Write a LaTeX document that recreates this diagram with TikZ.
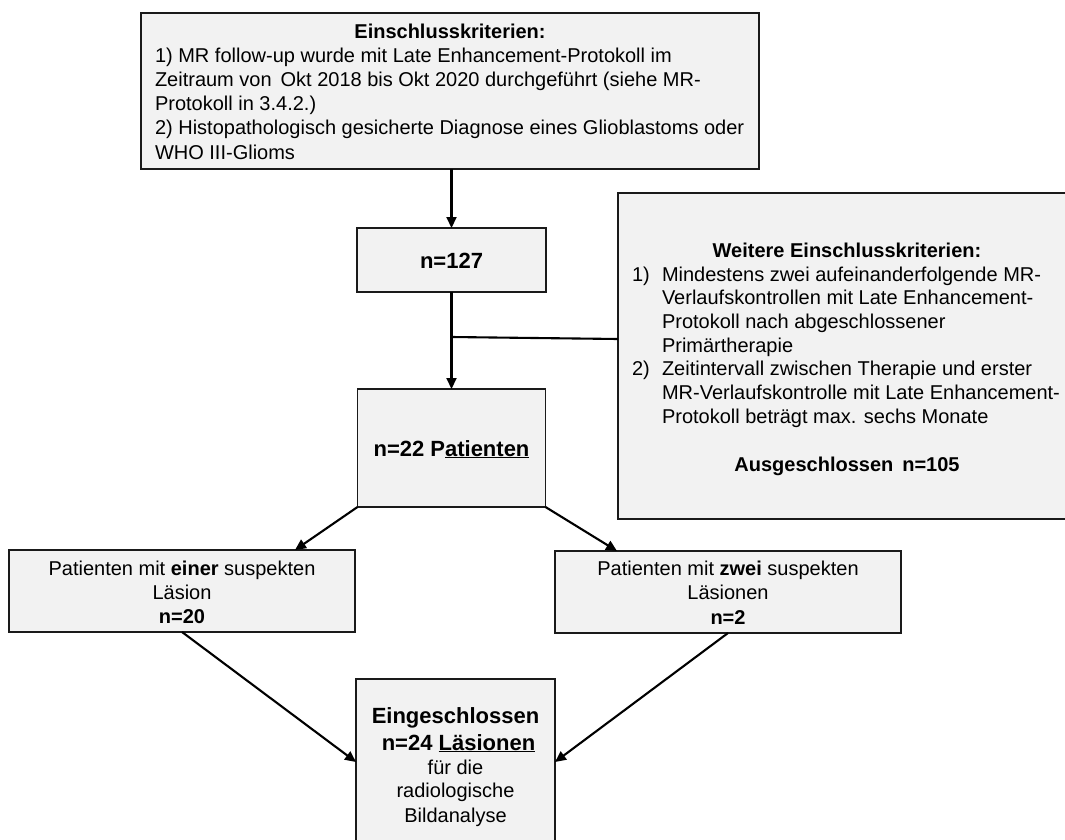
\documentclass[tikz,border=0pt]{standalone}
\usepackage{fontspec}
\setmainfont{Liberation Sans}
\usetikzlibrary{arrows.meta}
\definecolor{boxfill}{HTML}{F2F2F2}
\definecolor{edgecol}{HTML}{1A1A1A}
\begin{document}
\begin{tikzpicture}[x=1pt,y=-1pt,
  box/.style={draw=edgecol, line width=1.8pt, fill=boxfill, inner sep=0pt, outer sep=0pt},
  txt/.style={inner sep=0pt, outer sep=0pt, font=\fontsize{20}{24}\selectfont},
  txtb/.style={inner sep=0pt, outer sep=0pt, font=\fontsize{20}{24}\selectfont\bfseries},
  big/.style={inner sep=0pt, outer sep=0pt, font=\fontsize{22}{26}\selectfont\bfseries},
  conn/.style={draw=black, line width=2.1pt},
  arr/.style={conn, -{Triangle[length=11pt,width=10pt]}}]
\useasboundingbox (0,0) rectangle (1065,840);
\clip (0,0) rectangle (1065,840);

% boxes
\node[box, minimum width=618pt, minimum height=156pt] (top) at (450,91) {};
\node[box, minimum width=189pt, minimum height=64pt] (n127) at (451.5,260) {};
\node[box, minimum width=458pt, minimum height=326pt] (weit) at (847,356) {};
\node[box, minimum width=188pt, minimum height=118pt] (n22) at (451.5,448) {};
\node[box, minimum width=346pt, minimum height=82pt] (les1) at (182,591) {};
\node[box, minimum width=346pt, minimum height=82pt] (les2) at (728,592) {};
\node[box, minimum width=199pt, minimum height=220pt] (bot) at (455.5,789) {};

% top box text
\node[txtb, anchor=base] (topT) at (450,39) {Einschlusskriterien:};
\node[txt, anchor=base west] (topL1) at (155,63) {1) MR follow-up wurde mit Late Enhancement-Protokoll im};
\node[txt, anchor=base west] (topL2) at (155,87) {Zeitraum von\, Okt 2018 bis Okt 2020 durchgeführt (siehe MR-};
\node[txt, anchor=base west] (topL3) at (155,111) {Protokoll in 3.4.2.)};
\node[txt, anchor=base west] (topL4) at (155,135) {2) Histopathologisch gesicherte Diagnose eines Glioblastoms oder};
\node[txt, anchor=base west] (topL5) at (155,159) {WHO III-Glioms};

% n=127
\node[big, anchor=base] (n127T) at (451.5,268) {n=127};

% further criteria
\node[txtb, anchor=base] (weitT) at (847,257) {Weitere Einschlusskriterien:};
\node[txt, anchor=base west] (weitN1) at (632,281) {1)};
\node[txt, anchor=base west] (weitA1) at (662,281) {Mindestens zwei aufeinanderfolgende MR-};
\node[txt, anchor=base west] (weitA2) at (662,304.7) {Verlaufskontrollen mit Late Enhancement-};
\node[txt, anchor=base west] (weitA3) at (662,328.4) {Protokoll nach abgeschlossener};
\node[txt, anchor=base west] (weitA4) at (662,352) {Primärtherapie};
\node[txt, anchor=base west] (weitN2) at (632,375.8) {2)};
\node[txt, anchor=base west] (weitB1) at (662,375.8) {Zeitintervall zwischen Therapie und erster};
\node[txt, anchor=base west] (weitB2) at (662,399.5) {MR-Verlaufskontrolle mit Late Enhancement-};
\node[txt, anchor=base west] (weitB3) at (662,423) {Protokoll beträgt max. sechs Monate};
\node[txtb, anchor=base] (weitX) at (847,471) {Ausgeschlossen\, n=105};

% n=22
\node[big, anchor=base] (n22T) at (451.5,456) {n=22 P\underline{atienten}};

% lesion boxes
\node[txt, anchor=base] (les1a) at (182,575) {Patienten mit \textbf{einer} suspekten};
\node[txt, anchor=base] (les1b) at (182,599) {Läsion};
\node[txtb, anchor=base] (les1c) at (182,623) {n=20};
\node[txt, anchor=base] (les2a) at (728,575) {Patienten mit \textbf{zwei} suspekten};
\node[txt, anchor=base] (les2b) at (728,599) {Läsionen};
\node[txtb, anchor=base] (les2c) at (728,624) {n=2};

% bottom box
\node[big, anchor=base] (botA) at (455.5,723) {Eingeschlossen};
\node[big, anchor=base] (botB) at (458.5,750) {n=24 \underline{Läsionen}};
\node[txt, anchor=base] (botC) at (455.5,774) {für die};
\node[txt, anchor=base] (botD) at (455.5,797) {radiologische};
\node[txt, anchor=base] (botE) at (455.5,822) {Bildanalyse};

% connectors
\draw[arr] (top.south -| n127.north) -- (n127.north);
\draw[arr] (n127.south) -- (n22.north);
\coordinate (j) at (451.5,337);
\draw[conn] (j) -- ([yshift=-2pt]j -| weit.west);
\draw[arr] (n22.south west) -- ([xshift=286pt]les1.north west);
\draw[arr] (n22.south east) -- ([xshift=62pt]les2.north west);
\draw[arr] (les1.south) -- ([yshift=27pt]bot.west);
\draw[arr] (les2.south) -- ([yshift=27pt]bot.east);
\end{tikzpicture}
\end{document}
